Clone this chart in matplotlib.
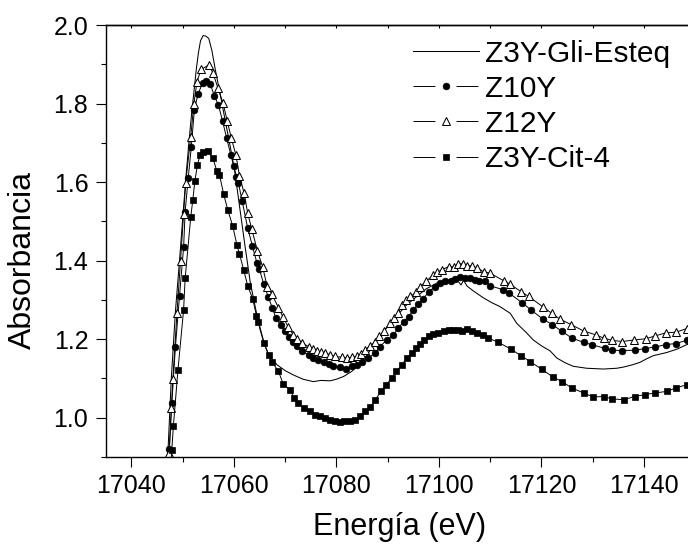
import matplotlib
matplotlib.use("Agg")
import matplotlib.pyplot as plt
from matplotlib.lines import Line2D
from matplotlib.ticker import MultipleLocator, FormatStrFormatter

plt.rcParams['font.family'] = ['Liberation Sans', 'DejaVu Sans']

# Z3Y-Gli-Esteq (solid line)
e_gli = [17046.8, 17047.1, 17047.8, 17048.6, 17049.4, 17050.1, 17050.7, 17051.3, 17051.8, 17052.3,
         17052.7, 17053.1, 17053.5, 17054.0, 17054.5, 17055.1, 17055.7, 17056.4, 17057.3, 17058.3,
         17059.3, 17060.2, 17061.2, 17062.2, 17063.2, 17064.2, 17065.1, 17066.0, 17066.8, 17068.4,
         17070.0, 17071.6, 17073.5, 17075.5, 17077.0, 17078.8, 17080.0, 17081.4, 17083.0, 17084.6,
         17086.0, 17087.5, 17089.0, 17090.5, 17092.0, 17093.5, 17095.7, 17097.5, 17099.6, 17101.5,
         17103.0, 17103.6, 17104.3, 17104.8, 17105.5, 17106.8, 17108.7, 17110.3, 17111.9, 17113.9,
         17115.2, 17117.1, 17118.4, 17120.0, 17121.7, 17123.0, 17124.6, 17126.2, 17128.8, 17132.1,
         17134.7, 17136.0, 17137.8, 17139.2, 17140.5, 17141.8, 17144.4, 17146.5, 17148.3, 17150.0]
a_gli = [0.85, 0.90, 1.10, 1.27, 1.40, 1.52, 1.62, 1.71, 1.78, 1.84,
         1.89, 1.93, 1.96, 1.973, 1.972, 1.966, 1.936, 1.885, 1.826, 1.758,
         1.690, 1.625, 1.530, 1.435, 1.345, 1.280, 1.225, 1.185, 1.160, 1.135,
         1.120, 1.109, 1.098, 1.092, 1.095, 1.094, 1.098, 1.105, 1.118, 1.138,
         1.160, 1.190, 1.215, 1.241, 1.262, 1.285, 1.309, 1.328, 1.343, 1.349,
         1.352, 1.350, 1.338, 1.350, 1.335, 1.322, 1.305, 1.293, 1.283, 1.266,
         1.240, 1.216, 1.198, 1.183, 1.170, 1.152, 1.140, 1.131, 1.126, 1.124,
         1.126, 1.129, 1.135, 1.141, 1.150, 1.158, 1.166, 1.175, 1.186, 1.195]

# Z10Y (filled circles)
e_z10 = [17047.4, 17047.9, 17048.6, 17049.4, 17050.2, 17050.5, 17051.1, 17051.7, 17052.3, 17053.0,
         17053.9, 17054.6, 17055.4, 17056.2, 17057.0, 17057.8, 17058.6, 17059.4, 17060.0, 17060.5,
         17060.9, 17061.6, 17062.7, 17063.6, 17064.5, 17065.0, 17065.8, 17066.7, 17067.5, 17068.2,
         17069.1, 17070.0, 17070.8, 17071.6, 17072.4, 17073.3, 17074.6, 17075.5, 17076.5, 17077.5,
         17078.5, 17079.4, 17080.7, 17081.9, 17083.0, 17084.0, 17085.0, 17086.2, 17087.6, 17088.5,
         17089.8, 17091.1, 17092.1, 17093.1, 17094.1, 17095.0, 17096.0, 17096.9, 17098.0, 17099.2,
         17100.2, 17101.2, 17102.3, 17103.2, 17104.1, 17105.1, 17106.0, 17107.0, 17107.8, 17109.0,
         17110.0, 17112.5, 17113.7, 17116.2, 17118.0, 17120.2, 17122.1, 17124.0, 17125.9, 17128.2,
         17129.8, 17132.3, 17133.8, 17135.8, 17138.2, 17140.1, 17142.1, 17144.2, 17146.2, 17148.3]
a_z10 = [0.92, 1.037, 1.18, 1.31, 1.434, 1.525, 1.61, 1.690, 1.784, 1.824,
         1.852, 1.858, 1.849, 1.82, 1.796, 1.755, 1.712, 1.670, 1.640, 1.614,
         1.597, 1.553, 1.483, 1.438, 1.394, 1.378, 1.341, 1.308, 1.280, 1.254,
         1.236, 1.220, 1.205, 1.194, 1.182, 1.169, 1.160, 1.152, 1.147, 1.143,
         1.137, 1.132, 1.128, 1.124, 1.131, 1.135, 1.143, 1.152, 1.165, 1.181,
         1.198, 1.211, 1.228, 1.245, 1.256, 1.275, 1.290, 1.303, 1.320, 1.334,
         1.343, 1.347, 1.347, 1.352, 1.358, 1.357, 1.355, 1.350, 1.347, 1.347,
         1.336, 1.326, 1.317, 1.293, 1.274, 1.252, 1.237, 1.220, 1.203, 1.192,
         1.186, 1.177, 1.172, 1.171, 1.172, 1.176, 1.180, 1.186, 1.189, 1.197]

# Z12Y (open triangles)
e_z12 = [17047.4, 17047.8, 17048.1, 17048.9, 17049.6, 17050.2, 17050.6, 17051.6, 17052.2, 17052.8,
         17053.6, 17055.1, 17055.9, 17056.9, 17057.9, 17058.7, 17059.5, 17060.4, 17061.1, 17062.0,
         17062.7, 17063.5, 17064.6, 17065.6, 17066.5, 17067.4, 17068.7, 17069.6, 17070.6, 17071.6,
         17072.4, 17073.3, 17074.6, 17075.4, 17076.2, 17077.0, 17077.8, 17078.8, 17079.8, 17081.1,
         17082.0, 17083.0, 17084.0, 17084.8, 17085.6, 17086.6, 17087.6, 17088.4, 17089.2, 17090.5,
         17091.3, 17092.1, 17092.8, 17093.6, 17094.4, 17095.6, 17096.3, 17097.5, 17098.9, 17099.6,
         17100.6, 17101.9, 17102.9, 17103.8, 17104.6, 17105.4, 17106.4, 17107.5, 17108.7, 17110.0,
         17112.6, 17113.9, 17116.0, 17117.5, 17120.2, 17122.0, 17123.6, 17125.8, 17128.2, 17130.6,
         17132.1, 17133.8, 17135.8, 17138.0, 17140.3, 17142.1, 17144.2, 17146.3, 17148.3]
a_z12 = [0.91, 1.025, 1.098, 1.266, 1.40, 1.520, 1.597, 1.716, 1.800, 1.855,
         1.887, 1.898, 1.879, 1.839, 1.801, 1.756, 1.712, 1.669, 1.616, 1.572,
         1.521, 1.480, 1.425, 1.385, 1.334, 1.315, 1.280, 1.256, 1.231, 1.211,
         1.200, 1.190, 1.181, 1.175, 1.169, 1.167, 1.165, 1.160, 1.156, 1.154,
         1.152, 1.154, 1.156, 1.163, 1.173, 1.183, 1.194, 1.207, 1.220, 1.241,
         1.254, 1.266, 1.288, 1.300, 1.309, 1.319, 1.334, 1.347, 1.364, 1.370,
         1.377, 1.385, 1.384, 1.392, 1.392, 1.387, 1.387, 1.381, 1.372, 1.368,
         1.349, 1.340, 1.321, 1.309, 1.283, 1.266, 1.251, 1.237, 1.221, 1.211,
         1.203, 1.197, 1.194, 1.198, 1.201, 1.208, 1.216, 1.218, 1.227]

# Z3Y-Cit-4 (filled squares)
e_cit = [17047.6, 17047.9, 17048.2, 17049.1, 17050.2, 17050.5, 17051.6, 17052.0, 17052.4, 17052.9,
         17053.4, 17054.0, 17054.9, 17055.9, 17056.7, 17057.2, 17058.0, 17058.8, 17059.8, 17060.6,
         17061.1, 17061.9, 17062.7, 17063.7, 17064.4, 17064.8, 17065.9, 17066.8, 17067.4, 17068.7,
         17069.6, 17070.9, 17071.8, 17072.6, 17073.6, 17074.8, 17075.9, 17076.8, 17077.8, 17078.8,
         17079.8, 17080.7, 17081.4, 17082.7, 17083.7, 17084.6, 17085.6, 17086.6, 17087.6, 17088.7,
         17089.7, 17090.8, 17091.7, 17092.8, 17093.7, 17094.7, 17095.6, 17096.3, 17097.1, 17098.0,
         17098.9, 17099.9, 17100.9, 17101.9, 17102.8, 17103.8, 17104.5, 17105.4, 17106.4, 17107.5,
         17108.6, 17109.6, 17111.6, 17114.0, 17116.0, 17117.8, 17120.1, 17122.2, 17124.0, 17125.9,
         17128.2, 17130.1, 17132.1, 17133.7, 17136.0, 17138.2, 17140.2, 17142.1, 17144.4, 17146.3,
         17148.3]
a_cit = [0.86, 0.919, 0.978, 1.122, 1.275, 1.355, 1.512, 1.555, 1.603, 1.644,
         1.669, 1.676, 1.678, 1.662, 1.627, 1.618, 1.570, 1.530, 1.487, 1.440,
         1.417, 1.377, 1.336, 1.302, 1.260, 1.245, 1.190, 1.160, 1.143, 1.118,
         1.087, 1.071, 1.050, 1.037, 1.025, 1.016, 1.008, 1.005, 0.999, 0.993,
         0.991, 0.989, 0.991, 0.992, 0.995, 1.005, 1.016, 1.027, 1.046, 1.067,
         1.084, 1.101, 1.118, 1.135, 1.152, 1.165, 1.177, 1.188, 1.198, 1.207,
         1.214, 1.217, 1.222, 1.224, 1.224, 1.224, 1.222, 1.226, 1.222, 1.217,
         1.211, 1.203, 1.192, 1.175, 1.158, 1.143, 1.123, 1.104, 1.092, 1.076,
         1.063, 1.053, 1.054, 1.048, 1.046, 1.054, 1.059, 1.063, 1.067, 1.076,
         1.084]

labels = ['Z3Y-Gli-Esteq', 'Z10Y', 'Z12Y', 'Z3Y-Cit-4']

fig = plt.figure(figsize=(6.88, 5.46), dpi=100)
ax = fig.add_axes([0.1536, 0.1630, 0.857, 0.7912])

lw = 0.7
sty_z10 = dict(marker='o', ms=4.8, mfc='k', mec='k', mew=0.5)
sty_z12 = dict(marker='^', ms=5.2, mfc='white', mec='k', mew=0.75)
sty_cit = dict(marker='s', ms=4.1, mfc='k', mec='k', mew=0.5)

ax.plot(e_gli, a_gli, color='k', lw=0.75)
ax.plot(e_z10, a_z10, color='k', lw=lw, **sty_z10)
ax.plot(e_z12, a_z12, color='k', lw=lw, **sty_z12)
ax.plot(e_cit, a_cit, color='k', lw=lw, **sty_cit)

ax.set_xlim(17035, 17150)
ax.set_ylim(0.9, 2.0)
ax.xaxis.set_major_locator(MultipleLocator(20))
ax.xaxis.set_minor_locator(MultipleLocator(10))
ax.yaxis.set_major_locator(MultipleLocator(0.2))
ax.yaxis.set_minor_locator(MultipleLocator(0.1))
ax.yaxis.set_major_formatter(FormatStrFormatter('%.1f'))

for s in ax.spines.values():
    s.set_linewidth(1.0)
ax.tick_params(which='both', direction='out', width=0.8, labelsize=18, top=False, right=False)
ax.tick_params(which='major', length=7, pad=5.5)
ax.tick_params(which='minor', length=3.5)

# small inward ticks on top axis
sec = ax.secondary_xaxis('top')
sec.xaxis.set_major_locator(MultipleLocator(10))
sec.tick_params(direction='in', length=2.5, width=0.8, labeltop=False)
sec.spines['top'].set_linewidth(1.0)

fig.text(400 / 688, 1 - 527 / 546, 'Energía (eV)', fontsize=22, ha='center', va='center')
fig.text(23 / 688, 1 - 260 / 546, 'Absorbancia', fontsize=23, ha='center', va='center', rotation=90)

# legend proxies: line broken around the marker
d_on = 15.8 / lw
d_off = 15.2 / lw
handles = [
    Line2D([], [], color='k', lw=0.75),
    Line2D([], [], color='k', lw=lw, dashes=(d_on, d_off), **sty_z10),
    Line2D([], [], color='k', lw=lw, dashes=(d_on, d_off), **sty_z12),
    Line2D([], [], color='k', lw=lw, dashes=(d_on, d_off), **sty_cit),
]
ax.legend(handles, labels, loc='upper left', bbox_to_anchor=(413 / 688, 1 - 39.5 / 546),
          bbox_transform=fig.transFigure, frameon=False, fontsize=21.5, numpoints=1,
          handlelength=2.2, handletextpad=0.22, labelspacing=0.24, borderpad=0, borderaxespad=0)

fig.savefig('out.png', dpi=100)
